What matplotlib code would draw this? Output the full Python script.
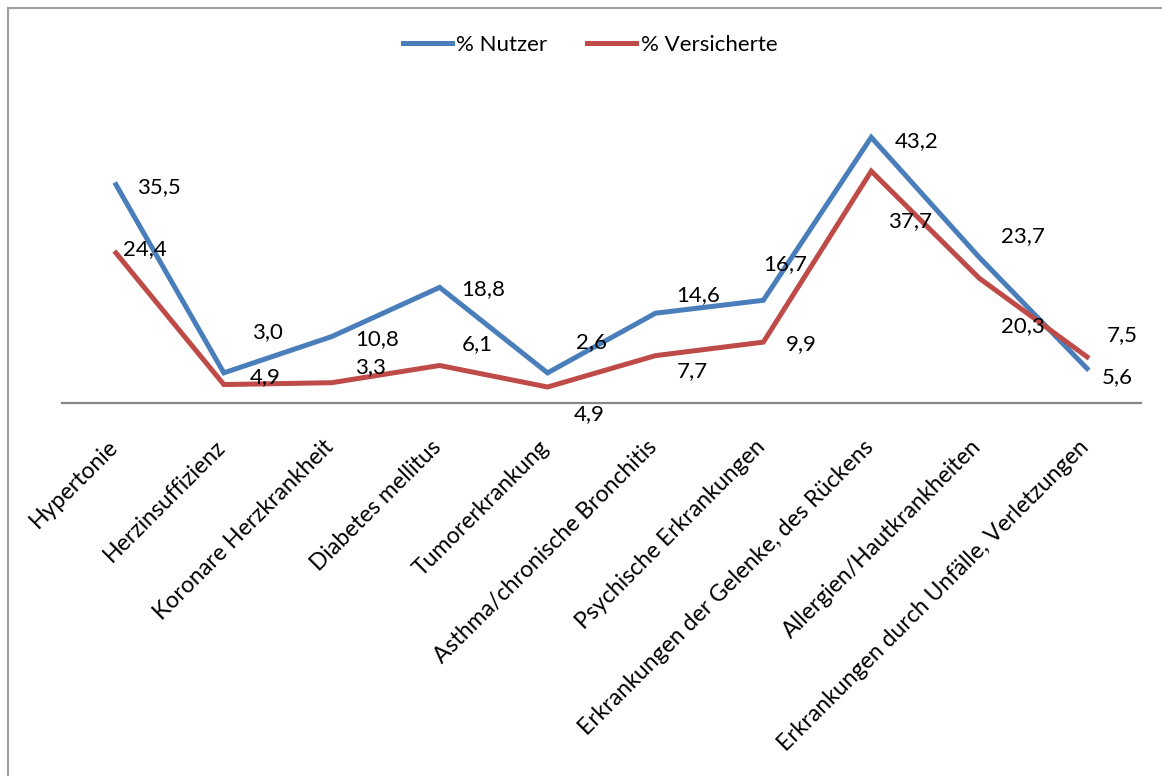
import matplotlib
matplotlib.use("Agg")
import matplotlib.pyplot as plt
import matplotlib.transforms as mtransforms
from matplotlib.patches import Rectangle

plt.rcParams['font.family'] = ['Lato', 'DejaVu Sans']

# Krankheitsbilder und Anteile in Prozent
kategorien = [
    "Hypertonie",
    "Herzinsuffizienz",
    "Koronare Herzkrankheit",
    "Diabetes mellitus",
    "Tumorerkrankung",
    "Asthma/chronische Bronchitis",
    "Psychische Erkrankungen",
    "Erkrankungen der Gelenke, des Rückens",
    "Allergien/Hautkrankheiten",
    "Erkrankungen durch Unfälle, Verletzungen",
]
nutzer = [35.5, 4.9, 10.8, 18.8, 4.9, 14.6, 16.7, 43.2, 23.7, 5.6]
versicherte = [24.4, 3.0, 3.3, 6.1, 2.6, 7.7, 9.9, 37.7, 20.3, 7.5]

# Lage der Datenbeschriftungen (Pixel rechts / unten vom Punkt)
off_nutzer = [(43, 2), (41, 4), (45, 3), (44, 2), (42, 41),
              (43, -18), (22, -36), (45, 4), (44, -21), (30, 9)]
off_versicherte = [(29, -4), (44, -52), (39, -16), (38, -21), (44, -45),
                   (37, 15), (38, 2), (39, 50), (44, 48), (35, -22)]

BLAU = '#4A7EBB'
ROT = '#BE4B48'

W, H = 1162, 776
fig = plt.figure(figsize=(W / 100, H / 100), dpi=100)
ax = fig.add_axes([62 / W, (H - 403) / H, 1079 / W, 307.5 / H])

x = list(range(len(kategorien)))
ax.plot(x, nutzer, color=BLAU, lw=3.6, solid_joinstyle='miter', label='% Nutzer')
ax.plot(x, versicherte, color=ROT, lw=3.6, solid_joinstyle='miter', label='% Versicherte')

def fmt(v):
    return f"{v:.1f}".replace('.', ',')

for i in x:
    for werte, offs in ((nutzer, off_nutzer), (versicherte, off_versicherte)):
        dx, dy = offs[i]
        ax.annotate(fmt(werte[i]), (i, werte[i]), xytext=(dx * 0.72, -dy * 0.72),
                    textcoords='offset points', ha='center', va='center',
                    fontsize=16, color='black')

ax.set_xlim(-0.5, len(kategorien) - 0.5)
ax.set_ylim(0, 50)
for s in ('top', 'right', 'left'):
    ax.spines[s].set_visible(False)
ax.spines['bottom'].set_color('#868686')
ax.spines['bottom'].set_linewidth(1.6)
ax.set_yticks([])
ax.set_xticks(x)
ax.set_xticklabels(kategorien, rotation=45, ha='right', va='top', fontsize=16.6)
ax.tick_params(axis='x', length=0, pad=24)
shift = mtransforms.ScaledTranslation(6 / 100, 0, fig.dpi_scale_trans)
for lab in ax.get_xticklabels():
    lab.set_transform(lab.get_transform() + shift)

leg = fig.legend(loc='center', bbox_to_anchor=(590 / W, 1 - 45 / H), ncol=2,
                 frameon=False, fontsize=16, handlelength=2.2, handletextpad=0.2,
                 columnspacing=1.8)

# grauer Diagrammrahmen
fig.patches.append(Rectangle((8 / W, -0.1), 1.2, (H - 8) / H + 0.1,
                             transform=fig.transFigure, fill=False,
                             edgecolor='#A0A0A0', lw=1.5))

fig.savefig('out.png', dpi=100)
